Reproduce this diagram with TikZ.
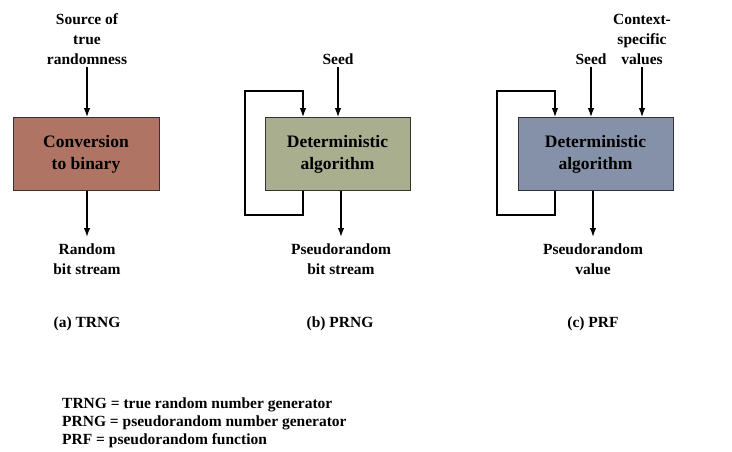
\documentclass[tikz,border=0pt]{standalone}
\usepackage{fontspec}
\setmainfont{Liberation Serif}
\usetikzlibrary{arrows.meta,calc}
\definecolor{trngc}{HTML}{AF7464}
\definecolor{prngc}{HTML}{A9AE8F}
\definecolor{prfc}{HTML}{8591A8}
\tikzset{
  blk/.style={draw=black!80, line width=0.8pt, minimum width=#1, minimum height=73pt, inner sep=0pt,
    align=center, font=\fontsize{17.5}{22}\selectfont\bfseries},
  lbl/.style={align=center, inner sep=2pt, font=\fontsize{15.5}{20}\selectfont\bfseries},
  outlbl/.style={lbl, inner ysep=7pt, anchor=north},
  captxt/.style={inner sep=0pt, font=\fontsize{15.5}{20}\selectfont\bfseries},
  arr/.style={line width=1.4pt, -{Latex[length=9pt,width=6.5pt]}},
}
\begin{document}
\begin{tikzpicture}[x=1pt,y=-1pt]
\useasboundingbox (0,0) rectangle (732,452);
% (a) TRNG
\node[blk=146pt, fill=trngc] (boxa) at (86,154) {Conversion\\to binary};
\node[lbl, anchor=south] (srca) at (87,67) {Source of\\true\\randomness};
\node[outlbl] (outa) at (87,237) {Random\\bit stream};
\draw[arr] (srca.south) -- (srca.south |- boxa.north);
\draw[arr] (outa.north |- boxa.south) -- (outa.north);
\node[captxt] (capa) at (87,324) {(a) TRNG};
% (b) PRNG
\node[blk=145pt, fill=prngc] (boxb) at (337.5,154) {Deterministic\\algorithm};
\node[lbl, anchor=south] (seedb) at (338,67) {Seed};
\node[outlbl] (outb) at (341,237) {Pseudorandom\\bit stream};
\draw[arr] (seedb.south) -- (seedb.south |- boxb.north);
\draw[arr] (outb.north |- boxb.south) -- (outb.north);
\draw[arr] ([xshift=-34.5pt]boxb.south) -- ++(0,24) -- ++(-58,0) -- ++(0,-124) -- ++(58,0) -- ([xshift=-34.5pt]boxb.north);
\node[captxt] (capb) at (340,324) {(b) PRNG};
% (c) PRF
\node[blk=155pt, fill=prfc] (boxc) at (595.5,154) {Deterministic\\algorithm};
\node[lbl, anchor=south] (seedc) at (591,67) {Seed};
\node[lbl, anchor=south] (ctxc) at (642,67) {Context-\\specific\\values};
\node[outlbl] (outc) at (593,237) {Pseudorandom\\value};
\draw[arr] (seedc.south) -- (seedc.south |- boxc.north);
\draw[arr] (ctxc.south) -- (ctxc.south |- boxc.north);
\draw[arr] (outc.north |- boxc.south) -- (outc.north);
\draw[arr] ([xshift=-40.5pt]boxc.south) -- ++(0,24) -- ++(-58,0) -- ++(0,-124) -- ++(58,0) -- ([xshift=-40.5pt]boxc.north);
\node[captxt] (capc) at (593,324) {(c) PRF};
% legend
\node[anchor=west, align=left, inner sep=0pt, font=\fontsize{15.5}{18}\selectfont\bfseries] (legend) at (62,423)
  {TRNG = true random number generator\\PRNG = pseudorandom number generator\\PRF = pseudorandom function};
\end{tikzpicture}
\end{document}
